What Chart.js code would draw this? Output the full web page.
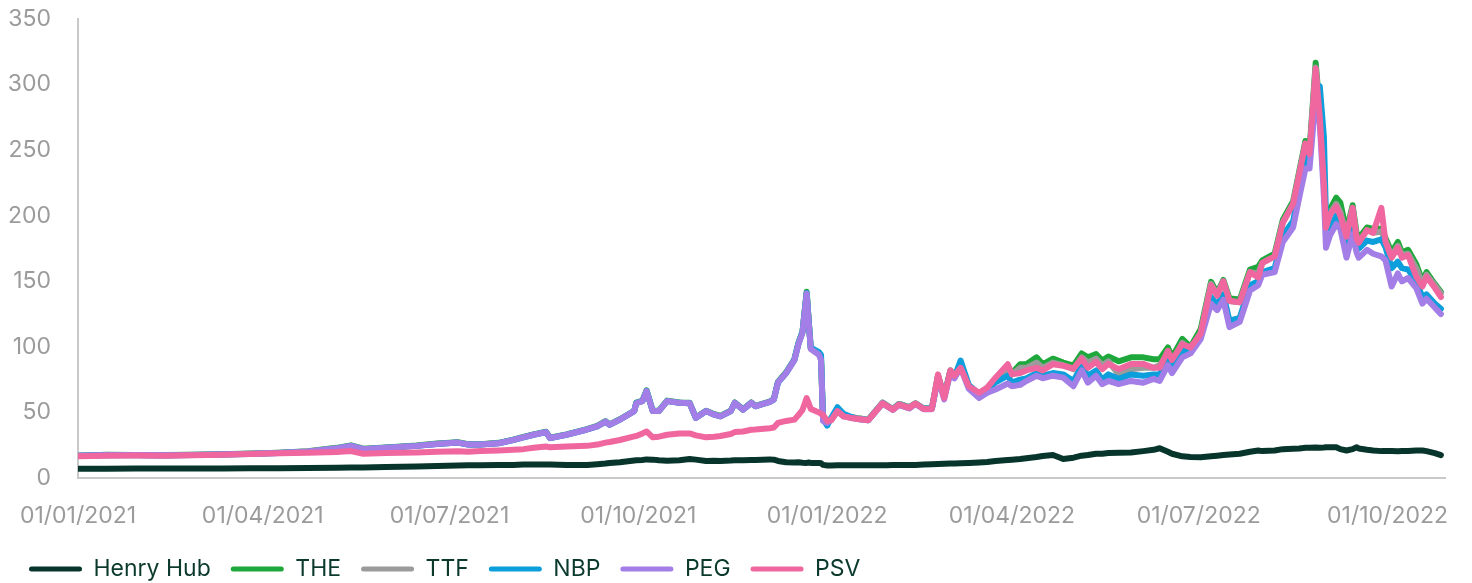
<!DOCTYPE html>
<html>
<head>
<meta charset="utf-8">
<script src="https://cdn.jsdelivr.net/npm/chart.js@4/dist/chart.umd.min.js"></script>
<style>
html,body{margin:0;padding:0;background:#ffffff;}
#wrap{width:1472px;height:583px;position:relative;}
</style>
</head>
<body>
<div id="wrap"><canvas id="c" width="1472" height="583"></canvas></div>
<script>
// ---- DATA ----
const dates = [
'2021-01-01','2021-01-15','2021-01-29','2021-02-12','2021-02-26','2021-03-12','2021-03-26','2021-04-09','2021-04-23','2021-05-07',
'2021-05-14','2021-05-20','2021-05-31','2021-06-15','2021-06-25','2021-07-05','2021-07-10','2021-07-16','2021-07-25','2021-08-01',
'2021-08-06','2021-08-11','2021-08-17','2021-08-19','2021-08-27','2021-09-06','2021-09-11','2021-09-15','2021-09-17','2021-09-22',
'2021-09-29','2021-09-30','2021-10-03','2021-10-05','2021-10-08','2021-10-11','2021-10-15','2021-10-21','2021-10-26','2021-10-29',
'2021-11-03','2021-11-07','2021-11-10','2021-11-15','2021-11-17','2021-11-21','2021-11-25','2021-11-27','2021-12-04','2021-12-06',
'2021-12-08','2021-12-12','2021-12-16','2021-12-18','2021-12-20','2021-12-22','2021-12-23','2021-12-24','2021-12-28','2021-12-29',
'2021-12-30','2022-01-01','2022-01-03','2022-01-06','2022-01-09','2022-01-12','2022-01-16','2022-01-21','2022-01-28','2022-01-30',
'2022-02-02','2022-02-05','2022-02-10','2022-02-13','2022-02-17','2022-02-21','2022-02-24','2022-02-27','2022-03-02','2022-03-04',
'2022-03-07','2022-03-11','2022-03-16','2022-03-20','2022-03-24','2022-03-30','2022-04-01','2022-04-05','2022-04-08','2022-04-13',
'2022-04-16','2022-04-21','2022-04-26','2022-05-01','2022-05-05','2022-05-08','2022-05-12','2022-05-15','2022-05-18','2022-05-23',
'2022-05-29','2022-06-04','2022-06-09','2022-06-12','2022-06-16','2022-06-18','2022-06-23','2022-06-27','2022-07-02','2022-07-07',
'2022-07-10','2022-07-13','2022-07-16','2022-07-21','2022-07-26','2022-07-30','2022-08-01','2022-08-07','2022-08-11','2022-08-16',
'2022-08-19','2022-08-22','2022-08-24','2022-08-27','2022-08-29','2022-08-31','2022-09-01','2022-09-03','2022-09-06','2022-09-08',
'2022-09-11','2022-09-14','2022-09-16','2022-09-17','2022-09-21','2022-09-24','2022-09-28','2022-09-30','2022-10-03','2022-10-06',
'2022-10-08','2022-10-11','2022-10-15','2022-10-18','2022-10-20','2022-10-24','2022-10-27'
];

const henryHub = [
7.0,7.0,7.2,7.2,7.3,7.3,7.5,7.5,7.6,7.8,
8.0,8.0,8.3,8.7,9.2,9.6,9.7,9.8,9.9,10.0,
10.2,10.3,10.3,10.2,10.0,9.9,10.5,11.0,11.5,12.0,
13.3,13.5,13.8,14.2,14.0,13.5,13.2,13.5,14.5,14.0,
13.0,13.2,13.0,13.3,13.5,13.5,13.7,13.8,14.2,14.0,
13.0,12.0,11.8,12.0,11.7,11.5,11.8,11.5,11.5,11.2,
10.0,9.6,9.6,9.7,9.7,9.7,9.8,9.8,9.8,9.8,
9.9,9.9,9.9,10.0,10.2,10.5,10.6,10.8,11.0,11.0,
11.2,11.4,11.8,12.2,13.0,13.8,14.0,14.5,15.0,16.0,
16.8,17.5,14.5,15.5,17.0,17.5,18.5,18.5,19.0,19.2,
19.5,20.5,21.5,22.7,20.0,18.5,16.5,16.0,15.8,16.5,
17.0,17.5,18.0,18.5,20.0,20.9,20.5,21.0,22.0,22.3,
22.5,23.0,23.0,23.2,23.0,23.2,23.4,23.5,23.5,22.0,
21.0,22.0,23.5,22.5,21.5,21.0,20.5,20.5,20.5,20.4,
20.5,20.6,21.0,21.0,20.5,19.0,17.5
];

const the = [
17,17.8,17.6,17.5,17.8,18.2,18.6,19.3,20.4,23,
24.8,22.3,23.3,24.8,26.3,27.3,25.8,25.8,26.8,29.3,
31.3,33.3,35.3,30.7,33.3,37.3,39.7,43.3,40.9,44.8,
51.3,57.5,59,66.8,51.3,51.3,59,57.6,57.3,46.1,
51.3,48.6,47.3,51.3,57.6,52.3,57.6,55,58.3,60.1,
73.2,80.6,90.5,103,112,142,120,99,94.5,91,
44,43,45,52,48,46.5,45.5,44.5,57.5,55.5,
52.5,56.5,54,57,53,53,78,62,82,77,
86,70,64,68,75,82,80,86.7,86.7,92,
86.7,91,88,85.6,95,92,94.5,89.6,92.7,89,
92,92,90.6,90.6,99.6,92,106,100,113.7,149.6,
141,151,137,136,159,161,166,171,197,211,
234,257,250,316.7,280,230,195,205,213.7,210,
188,208,186,183,191,190,190,183,172,180,
172,174,163,150,157,148,142
];

const ttf = [
17,17.6,17.5,17.4,17.7,18,18.5,19.2,20.3,22.8,
24.6,22.1,23.1,24.6,26.1,27.1,25.6,25.6,26.6,29.1,
31.1,33.1,35.1,30.5,33.1,37.1,39.5,43.1,40.7,44.6,
51.1,57.3,58.8,66.5,51.1,51.1,58.8,57.4,57.1,45.9,
51.1,48.4,47.1,51.1,57.4,52.1,57.4,54.8,58.1,59.9,
73,80.3,90.2,102.5,111.5,141,119.5,98.8,94,90.5,
44,43,45,52,48,46.5,45.5,44.5,57.5,55.5,
52.5,56.5,54,57,53,53,78,62,82,77,
86,70,64,68,75,82,79,84,84,88,
84,88,86,83,92,88,91,86,89,79,
83,84,84,86,95,88,103,98,111,148,
140,150,135,134,157,156,164,169,195,209,
232,255,247,313,278,226,192,202,209,203,
185,206,183,180,189,187,188,181,169,177,
170,171,160,148,155,147,141
];

const nbp = [
17,17.5,17.3,17.2,17.5,18,18.3,19,20,22.5,
24.5,22,23,24.5,26,27,25.5,25.5,26.5,29,
31,33,35,30.4,33,37,39.4,43,40.6,44.5,
51,57.3,58.6,66.5,51,51,58.6,57.3,57,45.8,
51,48.3,47,51,57.3,52,57.3,54.7,58,59.8,
72.7,80,90,102.5,111.5,141,119.5,99.5,96,94,
45,40,46,54,49,47,45,44,57,55,
52,56,53.5,56.5,53,53,77,62,81,77,
89.6,71,64,67,73,78,72.7,75,76,80,
78,80,79,74,85.6,78,82,75,79,75.6,
79,78,79,79,90,84,97,97,108,138,
132,140,120,122,147,150,157,160,185,196,
220,245,245,300,298.7,260,200,190,200,195,
175,195,178,175,181,180,182,176,160,165,
160,159,150,138,140,133,129
];

const peg = [
17,17.5,17.5,17.3,17.6,18,18.4,19,20.2,22.5,
24.5,22,23,24.5,26,27,25.5,25.5,26.5,29,
31,33,35,30.4,33,37,39.4,43,40.6,44.5,
51,57,58.6,66.3,51,51,58.6,57.3,57,45.8,
51,48.3,47,51,57.3,52,57.3,54.7,58,59.8,
72.7,80,89.7,102,111,140.6,118.8,98.3,94,90,
43.5,42,44.5,51,47,46,45,44,57,55,
52,55.5,53,56.5,52.5,52.5,76,60,80,76,
84,68,61,65,67.5,72,70,71,74,78,
76,78,76.5,70,82,72.7,78,71.6,74,71.6,
74,72.7,75.6,74,86,80,92,95,106,133,
128,136,115,119,143,147,155,157,180,191,
214,236,236,290,270,215,175.6,185,193.5,190,
168,186,171.5,168,174,171,169,166,146,156,
150,152.5,144.8,133,136.7,130,125
];

const psv = [
16.5,17,17.2,17,17.3,17.8,18.3,18.8,19.3,19.8,
20.5,18.5,19,19.5,20,20.4,20,20.6,21,21.5,
22,23,24,23.5,24,24.5,25.5,27,27.5,29,
31.7,32,34,35.5,31,31.5,33,34,34,32.5,
31,31.5,32,33.5,35,35.5,36.8,37,38,38.5,
42,43.5,44.5,48,52,61,57,52.7,50,49,
48,43.5,44,51,47,46,45,44,57,55,
52,56,53.5,56.8,52.7,52.7,79,61,82,78,
84,70,65,69,76.5,86.7,79,80,82,84,
82,86.7,85.6,83.5,91,84,88.5,83,87,83,
87,87,84,84,97,90,102,99.6,110,147,
139,150,135,134,157,153,164,169,194.6,209,
232,255,247,312,275,224,191,201,207,200,
184,206,182,179.5,189,187,206,180,168,175.6,
168,170,153.5,146,153.5,145,138
];

const seriesNames = ['Henry Hub','THE','TTF','NBP','PEG','PSV'];
const startDate = '2021-01-01';
const endDate = '2022-10-29';
const tickDates = ['2021-01-01','2021-04-01','2021-07-01','2021-10-01','2022-01-01','2022-04-01','2022-07-01','2022-10-01'];
const tickLabels = ['01/01/2021','01/04/2021','01/07/2021','01/10/2021','01/01/2022','01/04/2022','01/07/2022','01/10/2022'];
const yTicks = [0,50,100,150,200,250,300,350];

// ---- STYLE ----
const colors = ['#07352b','#1ea83b','#9b9b9b','#0d9fdb','#a27ee6','#f0679f'];
const FONT = 'Inter, "Noto Sans", sans-serif';

const dayOf = d => (Date.parse(d + 'T00:00:00Z') - Date.parse(startDate + 'T00:00:00Z')) / 86400000;
const xs = dates.map(dayOf);
const allSeries = [henryHub, the, ttf, nbp, peg, psv];

const datasets = allSeries.map((vals, i) => ({
  label: seriesNames[i],
  data: vals.map((v, j) => ({x: xs[j], y: v})),
  borderColor: colors[i],
  backgroundColor: colors[i],
  borderWidth: 6,
  pointRadius: 0,
  pointHoverRadius: 0,
  tension: 0,
  borderJoinStyle: 'round',
  borderCapStyle: 'round',
  fill: false,
  order: allSeries.length - i
}));

new Chart(document.getElementById('c'), {
  type: 'line',
  data: {datasets},
  options: {
    responsive: false,
    animation: false,
    devicePixelRatio: 1,
    layout: {padding: {left: 9, right: 27, top: 19, bottom: -7.5}},
    scales: {
      x: {
        type: 'linear',
        min: 0,
        max: dayOf(endDate),
        afterBuildTicks: s => { s.ticks = tickDates.map(d => ({value: dayOf(d)})); },
        afterFit: s => { s.height = 59.5; s.paddingLeft = 0; s.paddingRight = 0; },
        ticks: {
          callback: (v, i) => tickLabels[i],
          autoSkip: false,
          maxRotation: 0,
          minRotation: 0,
          padding: 24,
          color: '#9b9b9b',
          font: {family: FONT, size: 23}
        },
        grid: {display: false, drawTicks: false},
        border: {display: true, color: '#c9c9c9', width: 2}
      },
      y: {
        min: 0,
        max: 350,
        afterBuildTicks: s => { s.ticks = yTicks.map(v => ({value: v})); },
        afterFit: s => { s.width = 69; s.paddingTop = 0; s.paddingBottom = 0; },
        ticks: {
          padding: 27,
          color: '#9b9b9b',
          font: {family: FONT, size: 23}
        },
        grid: {display: false, drawTicks: false},
        border: {display: true, color: '#c9c9c9', width: 2}
      }
    },
    plugins: {
      legend: {
        position: 'bottom',
        align: 'start',
        labels: {
          boxWidth: 53,
          boxHeight: 5,
          useBorderRadius: true,
          borderRadius: 2.5,
          padding: 20,
          color: '#0b3a2d',
          font: {family: FONT, size: 23},
          sort: (a, b) => a.datasetIndex - b.datasetIndex,
          generateLabels: chart => Chart.defaults.plugins.legend.labels.generateLabels(chart).map(it => Object.assign(it, {lineWidth: 0, fillStyle: it.strokeStyle}))
        }
      },
      tooltip: {enabled: false}
    }
  }
});
</script>
</body>
</html>
